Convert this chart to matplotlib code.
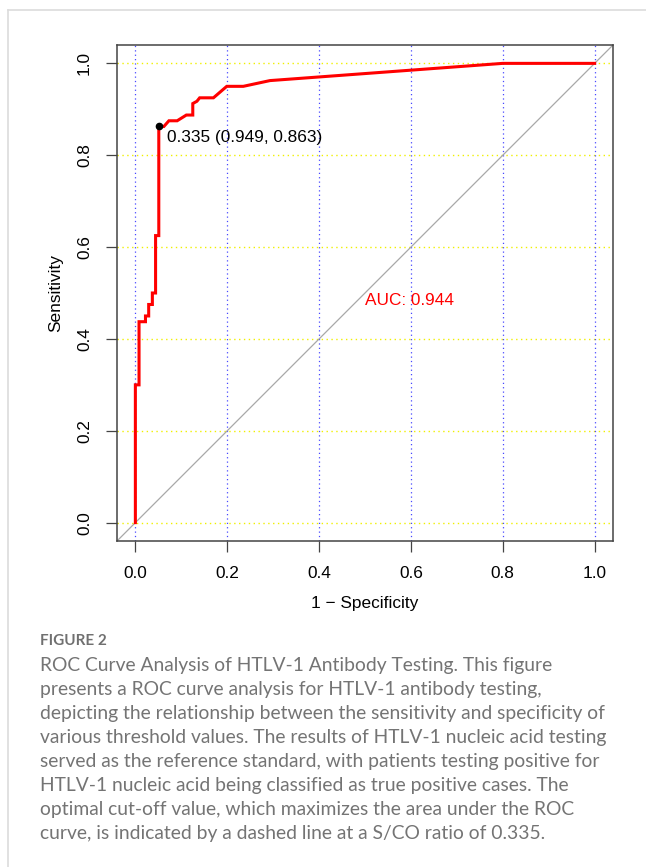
import matplotlib
matplotlib.use('Agg')
import matplotlib.pyplot as plt
from matplotlib.lines import Line2D

# ROC curve (x = 1 - specificity, y = sensitivity)
fpr = [0.0, 0.0, 0.008, 0.008, 0.022, 0.022, 0.029, 0.029, 0.037, 0.037,
       0.044, 0.044, 0.051, 0.051, 0.062, 0.073, 0.091, 0.111, 0.125, 0.125,
       0.134, 0.140, 0.170, 0.199, 0.235, 0.293, 0.800, 1.0]
tpr = [0.0, 0.300, 0.300, 0.4375, 0.4375, 0.450, 0.450, 0.475, 0.475, 0.500,
       0.500, 0.625, 0.625, 0.8625, 0.8625, 0.875, 0.875, 0.8875, 0.8875, 0.9125,
       0.9175, 0.925, 0.925, 0.950, 0.950, 0.9625, 1.0, 1.0]

best_thr = 0.335
best_spec = 0.949
best_sens = 0.863
auc = 0.944

ticks = [0.0, 0.2, 0.4, 0.6, 0.8, 1.0]
tick_labels = ["0.0", "0.2", "0.4", "0.6", "0.8", "1.0"]

caption_title = "FIGURE 2"
caption_lines = [
    "ROC Curve Analysis of HTLV-1 Antibody Testing. This figure",
    "presents a ROC curve analysis for HTLV-1 antibody testing,",
    "depicting the relationship between the sensitivity and specificity of",
    "various threshold values. The results of HTLV-1 nucleic acid testing",
    "served as the reference standard, with patients testing positive for",
    "HTLV-1 nucleic acid being classified as true positive cases. The",
    "optimal cut-off value, which maximizes the area under the ROC",
    "curve, is indicated by a dashed line at a S/CO ratio of 0.335.",
]

W, H = 646, 867
fig = plt.figure(figsize=(W / 100, H / 100), dpi=100)
plt.rcParams["font.family"] = ["Liberation Sans", "DejaVu Sans"]

# light frame around the figure (top and left edges)
fig.add_artist(Line2D([8 / W, 1], [1 - 10 / H, 1 - 10 / H], transform=fig.transFigure,
                      color="#dcdcdc", lw=1.2))
fig.add_artist(Line2D([8 / W, 8 / W], [0, 1 - 10 / H], transform=fig.transFigure,
                      color="#dcdcdc", lw=1.2))

ax = fig.add_axes([117 / W, 1 - 541 / H, (613 - 117) / W, (541 - 45) / H])
ax.set_xlim(-0.04, 1.04)
ax.set_ylim(-0.04, 1.04)

# grid
for t in ticks:
    ax.axvline(t, color="#4848ff", lw=0.9, linestyle=(0, (1, 2.5)), zorder=1)
    ax.axhline(t, color="#f0f000", lw=1.0, linestyle=(0, (1, 2.5)), zorder=1)

# chance diagonal
ax.plot([-0.04, 1.04], [-0.04, 1.04], color="#a8a8a8", lw=0.9, zorder=2)

# ROC curve
ax.plot(fpr, tpr, color="red", lw=2.2, zorder=3, solid_joinstyle="miter")

# best threshold
ax.plot([1 - best_spec], [best_sens], "o", color="black", ms=4.5, zorder=4)
ax.annotate(f"{best_thr:.3f} ({best_spec:.3f}, {best_sens:.3f})",
            xy=(1 - best_spec, best_sens), xytext=(6, -3),
            textcoords="offset points", ha="left", va="top", fontsize=12.4)

ax.text(0.5, 0.5, f"AUC: {auc:.3f}", color="red", ha="left", va="top", fontsize=12.4)

ax.set_xticks(ticks)
ax.set_xticklabels(tick_labels, fontsize=12.4)
ax.set_yticks(ticks)
ax.set_yticklabels(tick_labels, fontsize=12.4, rotation=90, va="center")
ax.tick_params(direction="out", length=8, width=0.9, color="#444444", pad=10)
for s in ax.spines.values():
    s.set_color("#444444")
    s.set_linewidth(1.1)

ax.set_xlabel("1 \u2212 Specificity", fontsize=12.4, labelpad=11)
ax.set_ylabel("Sensitivity", fontsize=12.4, labelpad=10)

# caption
fig.text(40 / W, 1 - 641 / H, caption_title, fontsize=11, color="#707070",
         fontweight="bold", family=["Lato", "DejaVu Sans"], ha="left", va="center")
for i, line in enumerate(caption_lines):
    fig.text(40 / W, 1 - (665 + 24 * i) / H, line, fontsize=13.9, color="#747474",
             family=["Lato", "DejaVu Sans"], ha="left", va="center")

fig.savefig("out.png", dpi=100)
